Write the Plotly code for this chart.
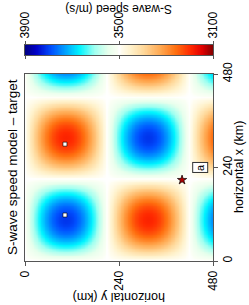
import numpy as np
import plotly.graph_objects as go

# ---- data ----
# checkerboard S-wave model: background speed, anomaly amplitude, half-wavelength
background_speed = 3500.0      # m/s
anomaly_amp = 310.0            # m/s
cell_size_km = 210.0           # km (nodal line spacing)
grid_y_km = np.arange(1, 480, 2.0)   # horizontal y (picture horizontal)
grid_x_km = np.arange(1, 480, 2.0)   # horizontal x (picture vertical)

station_y = [102, 102]
station_x = [118, 300]
source_y = [401]
source_x = [208]
label_text = "a"
label_y = 447
label_x = 239

axis_ticks = [0, 240, 480]
cbar_ticks = [3900, 3500, 3100]
zmin, zmax = 3100, 3900

# field
GY, GX = np.meshgrid(grid_y_km, grid_x_km)
speed = background_speed + anomaly_amp * np.sin(np.pi * GY / cell_size_km) * np.sin(np.pi * GX / cell_size_km)

# colour map, as fractions from the 3900 end (left of the bar)
cm_f = [0, 0.06, 0.14, 0.22, 0.29, 0.37, 0.44, 0.49, 0.5, 0.51, 0.56, 0.63, 0.72, 0.8, 0.88, 0.94, 1]
cm_c = ['#000080', '#0000C8', '#0050FF', '#00A8FF', '#00F4FF', '#A0FFF0', '#E6FFEC', '#FAFFF4',
        '#FFFFFF', '#FFFDF0', '#FFF2CC', '#FFD89A', '#FFA850', '#FF7010', '#FF2800', '#E00000',
        '#7F0000']
colorscale = sorted([[1 - f, c] for f, c in zip(cm_f, cm_c)], key=lambda t: t[0])

W, H = 249, 305
def px(x): return x / W
def py(y): return 1 - y / H

FONT = "Liberation Sans"
fig = go.Figure()

fig.add_trace(go.Heatmap(x=grid_y_km, y=grid_x_km, z=speed, colorscale=colorscale,
                         zmin=zmin, zmax=zmax, showscale=False, xaxis='x', yaxis='y'))
fig.add_trace(go.Scatter(x=station_y, y=station_x, mode='markers', xaxis='x', yaxis='y',
                         marker=dict(symbol='square', size=4, color='white',
                                     line=dict(color='black', width=0.6)), showlegend=False))
fig.add_trace(go.Scatter(x=source_y, y=source_x, mode='markers', xaxis='x', yaxis='y',
                         marker=dict(symbol='star', size=7, color='#B00000',
                                     line=dict(color='black', width=0.7)), showlegend=False))

# colour bar drawn as its own strip
cb_vals = np.linspace(zmin, zmax, 321)
fig.add_trace(go.Heatmap(x=cb_vals, y=[0], z=[cb_vals], colorscale=colorscale,
                         zmin=zmin, zmax=zmax, showscale=False, xaxis='x2', yaxis='y2'))

axcommon = dict(showgrid=False, zeroline=False, showline=True, linecolor='#555555', linewidth=1,
                tickfont=dict(family=FONT, size=12, color='black'), ticks='outside',
                tickcolor='#555555', ticklen=4, automargin=False)

def ann(text, x, y, angle, size):
    return dict(text=text, x=px(x), y=py(y), xref='paper', yref='paper', showarrow=False,
                textangle=angle, xanchor='center', yanchor='middle',
                font=dict(family=FONT, size=size, color='black'))

fig.update_layout(
    width=W, height=H, margin=dict(l=0, r=0, t=0, b=0, autoexpand=False),
    paper_bgcolor='white', plot_bgcolor='white', showlegend=False,
    xaxis=dict(domain=[px(25), px(213)], range=[0, 480], tickvals=axis_ticks,
               tickangle=-90, mirror=True, anchor='y', **axcommon),
    yaxis=dict(domain=[py(261), py(74)], range=[0, 480], tickvals=axis_ticks, side='right',
               tickangle=-90, mirror=True, anchor='x', **axcommon),
    xaxis2=dict(domain=[px(25), px(213)], range=[3900, 3100], tickvals=cbar_ticks,
                side='top', tickangle=-90, mirror='ticks', anchor='y2',
                **{**axcommon, 'ticklen': 3}),
    yaxis2=dict(domain=[py(55), py(45)], range=[-0.5, 0.5], showticklabels=False, ticks='',
                showgrid=False, zeroline=False, showline=True, mirror=True, automargin=False,
                linecolor='#555555', anchor='x2'),
    annotations=[
        ann("S-wave speed model – target", 12, 167, -90, 13.5),
        ann("S-wave speed (m/s)", 119, 9, 180, 12),
        ann("horizontal y (km)", 119, 297, 180, 12.5),
        ann("horizontal x (km)", 239, 167, -90, 12.5),
        dict(text=label_text, x=label_y, y=label_x, xref='x', yref='y', showarrow=False,
             textangle=-90, xanchor='center', yanchor='middle', bgcolor='white',
             bordercolor='#333333', borderwidth=1, borderpad=1,
             font=dict(family=FONT, size=11, color='black')),
    ],
)

fig.write_html("out.html", config={'displayModeBar': False},
               post_script="document.body.style.margin='0';")
